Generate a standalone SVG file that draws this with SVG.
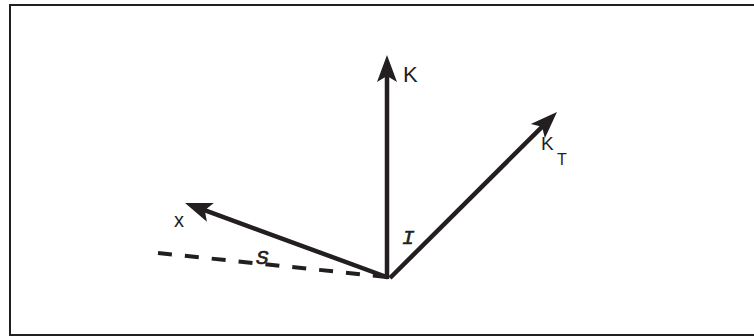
<svg xmlns="http://www.w3.org/2000/svg" width="754" height="336" viewBox="0 0 754 336">
<style>
.frame{fill:none;stroke:#231f20;stroke-width:2}
.vec{fill:none;stroke:#231f20;stroke-width:4.5;stroke-linecap:butt}
.dash{fill:none;stroke:#231f20;stroke-width:4;stroke-dasharray:14 13}
.lbl{font-family:"Liberation Sans",Arial,sans-serif;fill:#231f20}
.sym{font-family:"Liberation Mono","Courier New",monospace;font-style:italic;fill:#231f20;stroke:#231f20;stroke-width:0.6}
</style>
<defs>
<marker id="head" markerUnits="userSpaceOnUse" markerWidth="40" markerHeight="30" viewBox="-10 -15 40 30" refX="0" refY="0" orient="auto" overflow="visible">
<path d="M20,0 L-7,-10 L-1,0 L-7,10 Z" fill="#231f20"/>
</marker>
</defs>
<rect class="frame" x="10" y="5" width="760" height="330"/>
<g id="connectors">
<line class="dash" x1="158" y1="253" x2="387" y2="277"/>
<line class="vec" x1="387" y1="279" x2="387" y2="75" marker-end="url(#head)"/>
<line class="vec" x1="390" y1="278" x2="542.8" y2="126.1" marker-end="url(#head)"/>
<line class="vec" x1="388" y1="277.5" x2="203.8" y2="209.9" marker-end="url(#head)"/>
</g>
<g id="label-K"><text class="lbl" x="403" y="82" font-size="22">K</text></g>
<g id="label-KT"><text class="lbl" x="541" y="150" font-size="19">K</text><text class="lbl" x="557" y="165" font-size="16">T</text></g>
<g id="label-x"><text class="lbl" x="174" y="227" font-size="20">x</text></g>
<g id="label-S"><text class="sym" x="256" y="264" font-size="21">S</text></g>
<g id="label-I"><text class="sym" x="402" y="244" font-size="21">I</text></g>
</svg>
